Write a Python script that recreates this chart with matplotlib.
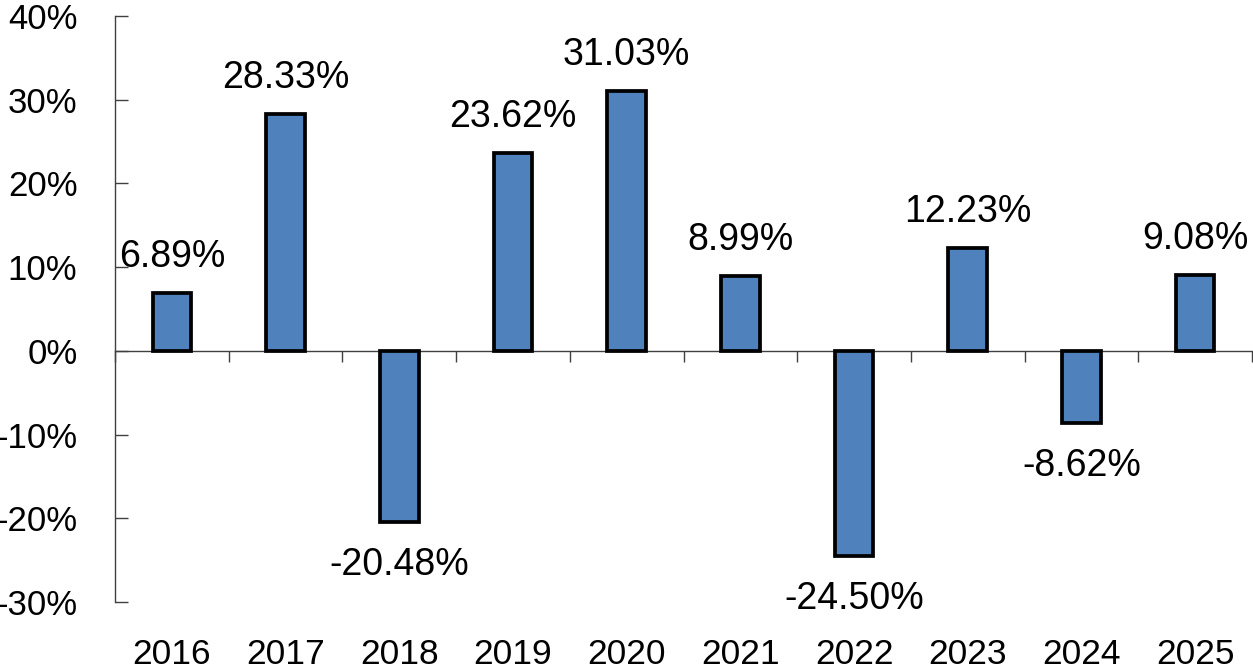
import numpy as np
import matplotlib
matplotlib.use('Agg')
import matplotlib.pyplot as plt
from matplotlib.ticker import FuncFormatter, FixedLocator

plt.rcParams['font.family'] = ['Liberation Sans', 'DejaVu Sans']

years = ['2016', '2017', '2018', '2019', '2020', '2021', '2022', '2023', '2024', '2025']
returns = [6.89, 28.33, -20.48, 23.62, 31.03, 8.99, -24.50, 12.23, -8.62, 9.08]
y_ticks = [-30, -20, -10, 0, 10, 20, 30, 40]

fig = plt.figure(figsize=(12.53, 6.67), dpi=100)
ax = fig.add_axes([115 / 1253, 65 / 667, 1137 / 1253, 586 / 667])

x = np.arange(len(years))
bars = ax.bar(x, returns, width=0.34, color='#4F81BD', edgecolor='black', linewidth=2.7, zorder=3)

for xi, v in zip(x, returns):
    if v >= 0:
        ax.annotate(f'{v:.2f}%', (xi, v), xytext=(0, 13), textcoords='offset points',
                    ha='center', va='bottom', fontsize=27)
    else:
        ax.annotate(f'{v:.2f}%', (xi, v), xytext=(0, -18), textcoords='offset points',
                    ha='center', va='top', fontsize=27)

ax.set_xlim(-0.5, len(years) - 0.5)
ax.set_ylim(-30, 40)
ax.set_yticks(y_ticks)
ax.yaxis.set_major_formatter(FuncFormatter(lambda v, p: f'{v:.0f}%'))
ax.tick_params(axis='y', direction='in', length=9, width=1, pad=27, labelsize=25, color='#404040')

ax.set_xticks(x)
ax.set_xticklabels(years)
ax.tick_params(axis='x', length=0, pad=26, labelsize=25.5)

for s in ['top', 'right', 'bottom']:
    ax.spines[s].set_visible(False)
ax.spines['left'].set_color('#404040')
ax.spines['left'].set_linewidth(1)

# zero line with category boundary ticks
sec = ax.secondary_xaxis(30 / 70)
sec.xaxis.set_major_locator(FixedLocator(np.arange(-0.5, len(years), 1.0)))
sec.tick_params(axis='x', direction='out', length=8, width=1, color='#404040', labelbottom=False)
sec.spines['bottom'].set_color('#404040')
sec.spines['bottom'].set_linewidth(1)

fig.savefig('out.png', dpi=100)
